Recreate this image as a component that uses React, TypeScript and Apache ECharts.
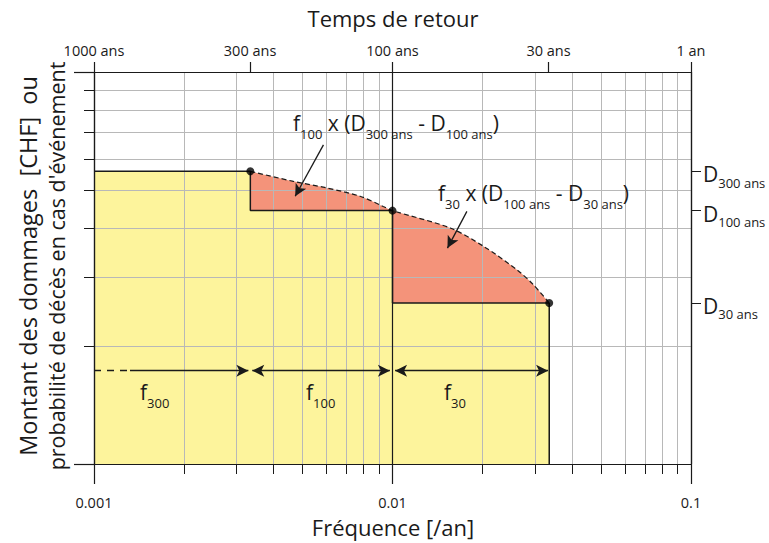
import React, { useEffect, useRef } from 'react';
import * as echarts from 'echarts';

// ---------- data ----------
const freqMinorTicks = [0.002, 0.003, 0.004, 0.005, 0.006, 0.007, 0.008, 0.009, 0.02, 0.03, 0.04, 0.05, 0.06, 0.07, 0.08, 0.09];
const freqMajorTicks = [0.001, 0.01, 0.1];
const freqMajorLabels = ['0.001', '0.01', '0.1'];
const returnPeriodTicks = [0.001, 0.0033333, 0.01, 0.033333, 0.1];
const returnPeriodLabels = ['1000 ans', '300 ans', '100 ans', '30 ans', '1 an'];
const damageMinorTicks = [2, 3, 4, 5, 6, 7, 8, 9];
const damageMajorTicks = [1, 10];
const dLevels = [5.58, 4.43, 2.575];
const dLabels = ['300 ans', '100 ans', '30 ans'];

// step (expected damage rectangles)
const stepX = [0.001, 0.00334, 0.00334, 0.01, 0.01, 0.0335, 0.0335];
const stepY = [5.58, 5.58, 4.43, 4.43, 2.575, 2.575, 1];

// damage curve (dashed)
const curveX = [0.00334, 0.00466, 0.00603, 0.00779, 0.00931, 0.01, 0.0156, 0.0202, 0.0261, 0.0296, 0.0335];
const curveY = [5.58, 5.26, 5.06, 4.82, 4.54, 4.43, 4.0, 3.59, 3.13, 2.87, 2.575];

// event points
const pointX = [0.00334, 0.01, 0.0335];
const pointY = [5.58, 4.43, 2.575];

// span arrows (f300, f100, f30)
const spanArrowY = 1.73;
const spanLeadDashed = [0.001, 0.00132];
const spanStarts = [0.00132, 0.00339, 0.0102];
const spanEnds = [0.00329, 0.0098, 0.0332];

// pointer arrows from the annotations
const pointerFrom = [[0.00587, 6.52], [0.01775, 4.41]];
const pointerTo = [[0.00472, 4.82], [0.01528, 3.555]];

// ---------- helpers ----------
const FONT = '"Open Sans", "Noto Sans", sans-serif';
const INK = '#1a1a1a';
const GRID = '#b8b8b8';
const YELLOW = '#fdf49c';
const SALMON = '#f4937a';

const nearestIdx = (arr: number[], v: number) => {
  let best = 0;
  for (let i = 1; i < arr.length; i++) {
    if (Math.abs(Math.log10(arr[i]) - Math.log10(v)) < Math.abs(Math.log10(arr[best]) - Math.log10(v))) best = i;
  }
  return best;
};

const zip = (xs: number[], ys: number[]) => xs.map((x, i) => [x, ys[i]]);

const richStyles = {
  m: { fontSize: 21, lineHeight: 34, fontFamily: FONT, fill: INK, color: INK },
  s: { fontSize: 13, lineHeight: 14, verticalAlign: 'bottom', fontFamily: FONT, fill: INK, color: INK },
};

const richText = (id: string, x: number, y: number, text: string) => ({
  type: 'text',
  id,
  x,
  y,
  z: 20,
  style: {
    text,
    rich: richStyles,
    align: 'left',
    verticalAlign: 'middle',
    fill: INK,
    font: `21px ${FONT}`,
  },
});

const plainText = (id: string, x: number, y: number, text: string, size: number, rotation = 0) => ({
  type: 'text',
  id,
  x,
  y,
  rotation,
  z: 20,
  style: {
    text,
    fill: INK,
    font: `${size}px ${FONT}`,
    align: 'center',
    verticalAlign: 'middle',
  },
});

const baseLogX = { type: 'log', logBase: 10, min: 0.001, max: 0.1, gridIndex: 0 };
const baseLogY = { type: 'log', logBase: 10, min: 1, max: 10, gridIndex: 0 };

export default function App() {
  const ref = useRef<HTMLDivElement>(null);
  useEffect(() => {
    document.body.style.margin = '0';
    const chart = echarts.init(ref.current!, null, { renderer: 'svg' });
    const option: any = {
      animation: false,
      grid: { left: 94, top: 72, width: 597, height: 392, containLabel: false },
      xAxis: [
        {
          ...baseLogX,
          position: 'bottom',
          z: 3,
          axisLine: { show: true, lineStyle: { color: INK, width: 1.2 } },
          axisTick: { show: true, customValues: freqMinorTicks, length: 10, inside: false, lineStyle: { color: INK, width: 1 } },
          axisLabel: { show: false },
          splitLine: { show: true, lineStyle: { color: GRID, width: 1 } },
          minorTick: { show: false },
        },
        {
          ...baseLogX,
          position: 'bottom',
          z: 4,
          axisLine: { show: false },
          axisTick: { show: true, customValues: freqMajorTicks, length: 20, inside: false, lineStyle: { color: INK, width: 1.2 } },
          axisLabel: {
            show: true,
            customValues: freqMajorTicks,
            margin: 31,
            color: INK,
            fontSize: 14.5,
            fontFamily: FONT,
            formatter: (v: number) => freqMajorLabels[nearestIdx(freqMajorTicks, v)],
          },
          splitLine: { show: true, lineStyle: { color: INK, width: 1.2 } },
        },
        {
          ...baseLogX,
          position: 'top',
          z: 4,
          axisLine: { show: true, lineStyle: { color: INK, width: 1.2 } },
          axisTick: { show: true, customValues: returnPeriodTicks, length: 10, inside: false, lineStyle: { color: INK, width: 1.2 } },
          axisLabel: {
            show: true,
            customValues: returnPeriodTicks,
            margin: 14,
            color: INK,
            fontSize: 14.5,
            fontFamily: FONT,
            formatter: (v: number) => returnPeriodLabels[nearestIdx(returnPeriodTicks, v)],
          },
          splitLine: { show: false },
        },
      ],
      yAxis: [
        {
          ...baseLogY,
          position: 'left',
          z: 3,
          axisLine: { show: true, lineStyle: { color: INK, width: 1.2 } },
          axisTick: { show: true, customValues: damageMinorTicks, length: 10, inside: false, lineStyle: { color: INK, width: 1 } },
          axisLabel: { show: false },
          splitLine: { show: true, lineStyle: { color: GRID, width: 1 } },
        },
        {
          ...baseLogY,
          position: 'left',
          z: 4,
          axisLine: { show: false },
          axisTick: { show: true, customValues: damageMajorTicks, length: 20, inside: false, lineStyle: { color: INK, width: 1.2 } },
          axisLabel: { show: false },
          splitLine: { show: false },
        },
        {
          ...baseLogY,
          position: 'right',
          z: 4,
          axisLine: { show: true, lineStyle: { color: INK, width: 1.2 } },
          axisTick: { show: true, customValues: dLevels, length: 10, inside: false, lineStyle: { color: INK, width: 1 } },
          axisLabel: {
            show: true,
            customValues: dLevels,
            margin: 12,
            padding: [6, 0, 0, 0],
            formatter: (v: number) => `{m|D}{s|${dLabels[nearestIdx(dLevels, v)]}}`,
            rich: {
              m: { fontSize: 21, lineHeight: 30, fontFamily: FONT, color: INK },
              s: { fontSize: 13, lineHeight: 14, verticalAlign: 'bottom', fontFamily: FONT, color: INK },
            },
          },
          splitLine: { show: false },
        },
      ],
      series: [
        {
          name: 'curve-area',
          type: 'line',
          xAxisIndex: 0,
          yAxisIndex: 0,
          z: 1,
          data: zip(curveX, curveY),
          smooth: 0.3,
          showSymbol: false,
          lineStyle: { opacity: 0 },
          areaStyle: { color: SALMON, opacity: 1, origin: 'start' },
          silent: true,
        },
        {
          name: 'step-area',
          type: 'line',
          xAxisIndex: 0,
          yAxisIndex: 0,
          z: 2,
          data: zip(stepX, stepY),
          showSymbol: false,
          lineStyle: { opacity: 0 },
          areaStyle: { color: YELLOW, opacity: 1, origin: 'start' },
          silent: true,
        },
        {
          name: 'curve-line',
          type: 'line',
          xAxisIndex: 0,
          yAxisIndex: 0,
          z: 6,
          data: zip(curveX, curveY),
          smooth: 0.3,
          showSymbol: false,
          lineStyle: { color: INK, width: 1.2, type: [5, 3] },
          silent: true,
        },
        {
          name: 'step-line',
          type: 'line',
          xAxisIndex: 0,
          yAxisIndex: 0,
          z: 6,
          data: zip(stepX, stepY),
          showSymbol: false,
          lineStyle: { color: INK, width: 1.5 },
          silent: true,
        },
        {
          name: 'points',
          type: 'scatter',
          xAxisIndex: 0,
          yAxisIndex: 0,
          z: 8,
          data: zip(pointX, pointY),
          symbolSize: 8,
          itemStyle: { color: '#000' },
          silent: true,
        },
        {
          name: 'arrows',
          type: 'scatter',
          xAxisIndex: 0,
          yAxisIndex: 0,
          z: 7,
          data: [],
          markLine: {
            silent: true,
            animation: false,
            symbolSize: [9, 12],
            label: { show: false },
            lineStyle: { color: INK, width: 1.3, type: 'solid' },
            data: [
              [
                { coord: [spanLeadDashed[0], spanArrowY], symbol: 'none', lineStyle: { type: [7, 6], color: INK, width: 1.3 } },
                { coord: [spanLeadDashed[1], spanArrowY], symbol: 'none' },
              ],
              ...spanStarts.map((s, i) => [
                { coord: [s, spanArrowY], symbol: i === 0 ? 'none' : 'arrow' },
                { coord: [spanEnds[i], spanArrowY], symbol: 'arrow' },
              ]),
              ...pointerFrom.map((p, i) => [
                { coord: p, symbol: 'none' },
                { coord: pointerTo[i], symbol: 'arrow' },
              ]),
            ],
          },
        },
      ],
      graphic: [
        plainText('title-top', 393, 18, 'Temps de retour', 22),
        plainText('title-bottom', 393, 527, 'Fréquence [/an]', 22),
        plainText('title-y1', 28, 266, 'Montant des dommages  [CHF]  ou', 23.5, Math.PI / 2),
        plainText('title-y2', 56, 266, "probabilité de décès en cas d'événement", 21.5, Math.PI / 2),
        richText('ann1', 293, 123, '{m|f}{s|100}{m| x (D}{s|300 ans}{m| - D}{s|100 ans}{m|)}'),
        richText('ann2', 438, 193, '{m|f}{s|30}{m| x (D}{s|100 ans}{m| - D}{s|30 ans}{m|)}'),
        richText('f300', 140, 392, '{m|f}{s|300}'),
        richText('f100', 306, 392, '{m|f}{s|100}'),
        richText('f30', 444, 392, '{m|f}{s|30}'),
      ],
    };
    chart.setOption(option);
    return () => chart.dispose();
  }, []);
  return <div ref={ref} style={{ width: 769, height: 543 }} />;
}
